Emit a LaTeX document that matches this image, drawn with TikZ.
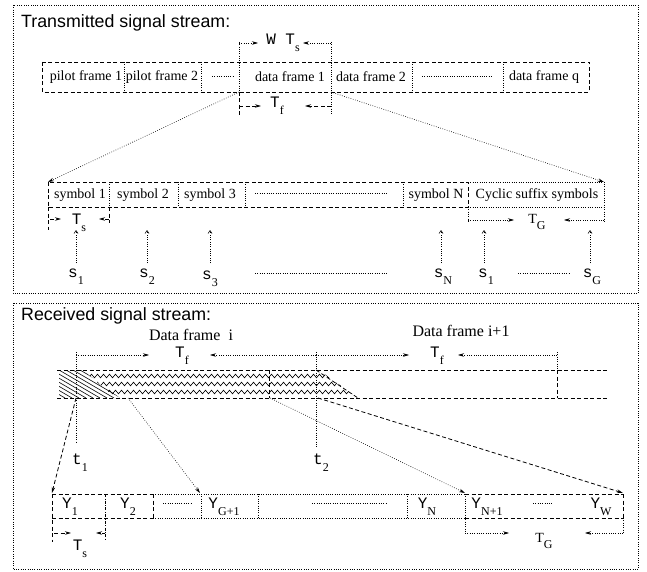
\documentclass[tikz,border=0pt]{standalone}
\usepackage{fontspec}
\setmainfont{Liberation Serif}
\setsansfont{Liberation Sans}
\setmonofont{Liberation Mono}
\usetikzlibrary{arrows.meta,decorations.pathmorphing}
\newcommand\lsub[1]{\raisebox{-0.45em}{\rmfamily\fontsize{12}{12}\selectfont #1}}
\newcommand\monof{\fontsize{16}{16}\selectfont\ttfamily}
\tikzset{
  dotl/.style={line width=0.6pt, dash pattern=on 0.7pt off 1.6pt},
  dashl/.style={line width=0.8pt, dash pattern=on 4pt off 2.5pt},
  dashdotl/.style={line width=0.8pt, dash pattern=on 3pt off 1.5pt on 0.7pt off 1.5pt},
  lbl/.style={font=\fontsize{14}{16}\selectfont, inner sep=0pt},
  biglbl/.style={font=\fontsize{16}{18}\selectfont, inner sep=0pt},
  ttl/.style={font=\sffamily\fontsize{17.8}{20}\selectfont, anchor=west, inner sep=0pt},
  arr/.style={-{Stealth[length=6pt,width=3.5pt]}},
  uparr/.style={-{Straight Barb[length=3pt,width=4pt]}},
  zz/.style={decorate, decoration={zigzag, segment length=6pt, amplitude=1.8pt}, line width=0.6pt}
}
\begin{document}
\begin{tikzpicture}[x=1pt,y=-1pt]
\useasboundingbox (0,0) rectangle (647,572);
% ---------- frames ----------
\draw[dotl] (13,5) rectangle (638,293);
\draw[dotl] (13,303) rectangle (638,569);
\node[ttl] (title1) at (21,23) {Transmitted signal stream:};
\node[ttl] (title2) at (21,316) {Received signal stream:};

% ---------- transmitted frame row ----------
\draw[dashl] (42,62) rectangle (589,92);
\foreach \x in {124,201,412,503} \draw[dotl] (\x,62) -- (\x,92);
\draw[dotl] (239,42) -- (239,92);
\draw[dashl] (239,92) -- (239,115);
\draw[dotl] (331,42) -- (331,115);
\node[lbl] (pf1) at (86,77) {pilot frame 1};
\node[lbl] (pf2) at (162,77) {pilot frame 2};
\node[lbl] (df1) at (290,77) {data frame 1};
\node[lbl] (df2) at (371,77) {data frame 2};
\node[lbl] (dfq) at (544,77) {data frame q};
\draw[dotl] (212,76) -- (233,76);
\draw[dotl] (422,76) -- (492,76);

% W T_s
\node[lbl] (wts) at (283,43) {\monof W T\lsub{s}};
\coordinate (w1) at (239,43); \coordinate (w1e) at (258,43);
\coordinate (w2) at (331,43); \coordinate (w2e) at (303,43);
\draw[dotl,arr] (w1) -- (w1e);
\draw[dotl,arr] (w2) -- (w2e);
% T_f top
\node[lbl] (tftop) at (277,106) {\monof T\lsub{f}};
\coordinate (f1) at (239,106); \coordinate (f1e) at (261,106);
\coordinate (f2) at (331,106); \coordinate (f2e) at (305,106);
\draw[dashl,arr] (f1) -- (f1e);
\draw[dashl,arr] (f2) -- (f2e);

% zoom lines
\coordinate (d1a) at (239,92); \coordinate (d1b) at (331,92);
\coordinate (sL) at (48,182); \coordinate (sR) at (604,182);
\draw[dotl,arr] (d1a) -- (sL);
\draw[dotl,arr] (d1b) -- (sR);

% ---------- symbol row ----------
\draw[dashl] (48,182) rectangle (468,207);
\draw[dotl] (468,182) -- (604,182) -- (604,221);
\draw[dotl] (468,207) -- (604,207);
\draw[dotl] (468,207) -- (468,221);
\draw[dashl] (48,207) -- (48,230);
\draw[dashl] (109,207) -- (109,223);
\foreach \x in {109,178,245,403} \draw[dotl] (\x,182) -- (\x,207);
\draw[dotl] (255,193) -- (387,193);
\node[lbl] (sy1) at (80,195) {symbol 1};
\node[lbl] (sy2) at (143,195) {symbol 2};
\node[lbl] (sy3) at (210,195) {symbol 3};
\node[lbl] (syN) at (436,195) {symbol N};
\node[lbl] (cyc) at (537,195) {Cyclic suffix symbols};

% T_s top
\node[lbl] (tstop) at (79,223) {\monof T\lsub{s}};
\coordinate (ts1) at (50,219); \coordinate (ts1e) at (61,219);
\coordinate (ts2) at (109,219); \coordinate (ts2e) at (99,219);
\draw[dashl,arr] (ts1) -- (ts1e);
\draw[dashl,arr] (ts2) -- (ts2e);
% T_G top
\node[lbl] (tgtop) at (537,222) {T\lsub{G}};
\coordinate (g1) at (468,220); \coordinate (g1e) at (514,220);
\coordinate (g2) at (604,220); \coordinate (g2e) at (564,220);
\draw[dotl,arr] (g1) -- (g1e);
\draw[dotl,arr] (g2) -- (g2e);

% s arrows
\foreach \x/\nm in {76/a,147/b,210/c,441/d,484/e,590/f} {
  \coordinate (sb\nm) at (\x,263); \coordinate (st\nm) at (\x,230);
  \draw[dotl,uparr] (sb\nm) -- (st\nm);
}
\node[lbl] (s1) at (76,277) {\monof s\lsub{1}};
\node[lbl] (s2) at (147,277) {\monof s\lsub{2}};
\node[lbl] (s3) at (210,279) {\monof s\lsub{3}};
\node[lbl] (sN) at (443,277) {\monof s\lsub{N}};
\node[lbl] (s1b) at (486,277) {\monof s\lsub{1}};
\node[lbl] (sG) at (592,277) {\monof s\lsub{G}};
\draw[dotl] (255,273) -- (387,273);
\draw[dotl] (518,273) -- (570,273);

% ---------- received ----------
\node[biglbl] (dfi) at (191,335) {Data frame\ \ i};
\node[biglbl] (dfi1) at (461,331) {Data frame i+1};
\node[lbl] (tfi) at (182,356) {\monof T\lsub{f}};
\node[lbl] (tfi1) at (437,356) {\monof T\lsub{f}};
\coordinate (r1) at (76,355); \coordinate (r1e) at (149,355);
\coordinate (r2) at (316,355); \coordinate (r2e) at (210,355);
\coordinate (r3) at (316,355); \coordinate (r3e) at (409,355);
\coordinate (r4) at (557,355); \coordinate (r4e) at (458,355);
\draw[dotl,arr] (r1) -- (r1e);
\draw[dotl,arr] (r2) -- (r2e);
\draw[dotl,arr] (r3) -- (r3e);
\draw[dotl,arr] (r4) -- (r4e);
\draw[dotl] (76,352) -- (76,443);
\draw[dotl] (316,352) -- (316,448);
\draw[dotl] (557,352) -- (557,370);
\draw[dashl] (557,370) -- (557,398);

% zigzag
\begin{scope}
\clip (80,368) -- (316,368) -- (358,398) -- (116,398) -- cycle;
\foreach \y in {376,384,392} \draw[zz] (60,\y) -- (370,\y);
\end{scope}
% hatch
\begin{scope}
\clip (59,370) -- (82,370) -- (120,398) -- (59,398) -- cycle;
\foreach \k in {0,...,16} \draw[line width=0.6pt] (10+7*\k,370) -- (58+7*\k,398);
\end{scope}
\draw[dashl] (57,370) -- (607,370);
\draw[dashl] (57,398) -- (607,398);
\draw[dashl] (316,370) -- (358,398);
\draw[dashl] (269,370) -- (269,398);

\node[lbl] (t1) at (80,463) {\monof t\lsub{1}};
\node[lbl] (t2) at (321,463) {\monof t\lsub{2}};

% zoom lines received
\coordinate (p1) at (76,398); \coordinate (q1) at (52,493);
\coordinate (p2) at (128,398); \coordinate (q2) at (200,493);
\coordinate (p3) at (270,398); \coordinate (q3) at (465,493);
\coordinate (p4) at (318,398); \coordinate (q4) at (623,493);
\draw[dashl,arr] (p1) -- (q1);
\draw[dotl,arr] (p2) -- (q2);
\draw[dotl,arr] (p3) -- (q3);
\draw[dashl,arr] (p4) -- (q4);

% Y row
\draw[dashl] (52,494) -- (153,494);
\draw[dashl] (52,518) -- (153,518);
\draw[dotl] (153,494) -- (465,494);
\draw[dotl] (153,518) -- (465,518);
\draw[dashl] (465,494) -- (623,494);
\draw[dashl] (465,518) -- (623,518);
\draw[dashl] (52,494) -- (52,542);
\draw[dashdotl] (105,494) -- (105,540);
\draw[dashl] (153,494) -- (153,518);
\foreach \x in {201,258,407} \draw[dotl] (\x,494) -- (\x,518);
\draw[dotl] (465,494) -- (465,533);
\draw[dashl] (623,494) -- (623,518);
\draw[dotl] (623,518) -- (623,533);
\draw[dotl] (163,503) -- (192,503);
\draw[dotl] (312,503) -- (387,503);
\draw[dotl] (533,503) -- (553,503);
\node[lbl] (y1) at (70,507) {\monof Y\lsub{1}};
\node[lbl] (y2) at (128,507) {\monof Y\lsub{2}};
\node[lbl] (yg) at (224,507) {\monof Y\lsub{G+1}};
\node[lbl] (yn) at (427,507) {\monof Y\lsub{N}};
\node[lbl] (yn1) at (487,507) {\monof Y\lsub{N+1}};
\node[lbl] (yw) at (601,507) {\monof Y\lsub{W}};

% T_s bottom
\node[lbl] (tsb) at (80,549) {\monof T\lsub{s}};
\coordinate (u1) at (54,533); \coordinate (u1e) at (71,533);
\coordinate (u2) at (105,533); \coordinate (u2e) at (96,533);
\draw[dashl,arr] (u1) -- (u1e);
\draw[dashdotl,arr] (u2) -- (u2e);
% T_G bottom
\node[lbl] (tgb) at (544,541) {T\lsub{G}};
\coordinate (v1) at (465,533); \coordinate (v1e) at (509,533);
\coordinate (v2) at (623,533); \coordinate (v2e) at (585,533);
\draw[dotl,arr] (v1) -- (v1e);
\draw[dotl,arr] (v2) -- (v2e);
\end{tikzpicture}
\end{document}
